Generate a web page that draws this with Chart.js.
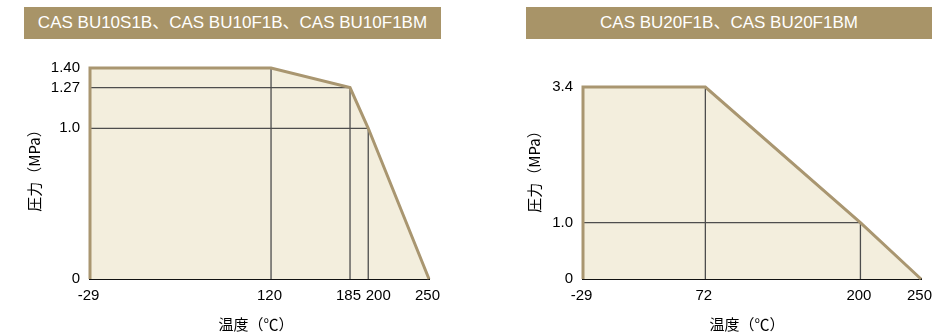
<!DOCTYPE html>
<html><head><meta charset="utf-8">
<script src="https://cdn.jsdelivr.net/npm/chart.js@4/dist/chart.umd.min.js"></script>
<style>
body{margin:0;width:948px;height:336px;background:#fff;position:relative;overflow:hidden;font-family:"Liberation Sans","Noto Sans CJK JP",sans-serif}
.banner{position:absolute;top:7px;height:32px;line-height:32px;background:#a89468;color:#fff;font-size:17px;text-align:center;white-space:nowrap;font-family:"Liberation Sans","Noto Sans CJK JP",sans-serif}
canvas{position:absolute;top:0}
</style></head><body>
<div class="banner" id="b1" style="left:24px;width:417px"></div>
<div class="banner" id="b2" style="left:526px;width:406px"></div>
<canvas id="c1" width="474" height="336" style="left:0"></canvas>
<canvas id="c2" width="474" height="336" style="left:474px"></canvas>
<script>
// ---- data ----
const titleA = 'CAS BU10S1B、CAS BU10F1B、CAS BU10F1BM';
const titleB = 'CAS BU20F1B、CAS BU20F1BM';
const xTitle = '温度（℃）';
const yTitle = '圧力（MPa）';

// chart A: temperature (°C) / pressure (MPa) limit curve
const tempA = [-29, -29, 120, 185, 200, 250];
const pressA = [0, 1.40, 1.40, 1.27, 1.0, 0];
const xTicksA = [-29, 120, 185, 200, 250];
const xTickLabelsA = ['-29', '120', '185', '200', '250'];
const yTicksA = [0, 1.0, 1.27, 1.40];
const yTickLabelsA = ['0', '1.0', '1.27', '1.40'];

// chart B
const tempB = [-29, -29, 72, 200, 250];
const pressB = [0, 3.4, 3.4, 1.0, 0];
const xTicksB = [-29, 72, 200, 250];
const xTickLabelsB = ['-29', '72', '200', '250'];
const yTicksB = [0, 1.0, 3.4];
const yTickLabelsB = ['0', '1.0', '3.4'];

// ---- styles ----
const TAN = '#a99670';
const FILL = '#f3eedd';
const GUIDE = '#4d4d4d';
const TEXT = '#000000';
const TICK_FONT = {family: '"Liberation Sans", Arial, sans-serif', size: 15};
const TITLE_FONT = '15px "Noto Sans CJK JP", sans-serif';

document.getElementById('b1').textContent = titleA;
document.getElementById('b2').textContent = titleB;

function makeChart(id, temps, press, xTicks, xLabels, yTicks, yLabels, layout) {
  const pts = temps.map((t, i) => ({x: t, y: press[i]}));
  const xMin = Math.min(...temps), xMax = Math.max(...temps);
  const yMax = Math.max(...press);
  const datasets = [{
    data: pts, borderColor: TAN, borderWidth: 3, backgroundColor: FILL,
    fill: 'origin', pointRadius: 0, tension: 0, clip: false, borderJoinStyle: 'miter'
  }];
  for (let i = 2; i < pts.length - 1; i++) {
    const p = pts[i];
    datasets.push({data: [{x: p.x, y: 0}, {x: p.x, y: p.y}], borderColor: GUIDE, borderWidth: 1.3,
      pointRadius: 0, fill: false, clip: false});
    if (p.y < yMax) {
      datasets.push({data: [{x: xMin, y: p.y}, {x: p.x, y: p.y}], borderColor: GUIDE, borderWidth: 1.3,
        pointRadius: 0, fill: false, clip: false});
    }
  }
  const shifted = layout.shift ? [layout.shift.value] : [];
  const mainTicks = xTicks.filter(v => !shifted.includes(v));
  const helpers = {
    id: 'axisTitles',
    afterLayout(chart) {
      // let the zero-height helper axis draw its label below the baseline
      if (chart.scales.x2) chart.scales.x2.bottom = chart.height;
    },
    afterDraw(chart) {
      const ctx = chart.ctx;
      ctx.save();
      ctx.fillStyle = TEXT;
      ctx.font = TITLE_FONT;
      ctx.textAlign = 'center';
      ctx.textBaseline = 'middle';
      ctx.fillText(xTitle, layout.xtx, layout.xty);
      ctx.translate(layout.ytx, layout.yty);
      ctx.rotate(-Math.PI / 2);
      ctx.fillText(yTitle, 0, 0);
      ctx.restore();
    }
  };
  const tickLabel = v => xLabels[xTicks.indexOf(v)];
  const scales = {
    x: {
      type: 'linear', min: xMin, max: xMax, z: 1, weight: 0,
      grid: {display: false, drawTicks: false},
      border: {display: true, color: '#111', width: 2},
      afterBuildTicks: s => { s.ticks = mainTicks.map(v => ({value: v})); },
      afterFit: s => { s.height = 57; },
      ticks: {padding: 8, color: TEXT, font: TICK_FONT, maxRotation: 0, autoSkip: false,
        labelOffset: layout.xLabelOffset || 0, callback: tickLabel}
    },
    y: {
      type: 'linear', min: 0, max: yMax,
      grid: {display: false, drawTicks: false},
      border: {display: false},
      afterBuildTicks: s => { s.ticks = yTicks.map(v => ({value: v})); },
      afterFit: s => { s.width = layout.yw; },
      ticks: {padding: 10, color: TEXT, font: TICK_FONT, autoSkip: false,
        callback: v => yLabels[yTicks.indexOf(v)]}
    }
  };
  if (shifted.length) {
    scales.x2 = {
      type: 'linear', position: 'bottom', min: xMin, max: xMax, z: 1, weight: -1,
      grid: {display: false, drawTicks: false},
      border: {display: false},
      afterBuildTicks: s => { s.ticks = shifted.map(v => ({value: v})); },
      afterFit: s => { s.height = 0; },
      ticks: {padding: 8, color: TEXT, font: TICK_FONT, maxRotation: 0, autoSkip: false,
        labelOffset: layout.shift.dx, callback: tickLabel}
    };
  }
  return new Chart(document.getElementById(id), {
    type: 'scatter',
    data: {datasets},
    options: {
      responsive: false, devicePixelRatio: 1, animation: false, showLine: true,
      layout: {padding: {top: layout.top, right: layout.right, left: 0, bottom: 0}},
      plugins: {legend: {display: false}, tooltip: {enabled: false}, filler: {drawTime: 'beforeDatasetsDraw'}},
      scales
    },
    plugins: [helpers]
  });
}

makeChart('c1', tempA, pressA, xTicksA, xTickLabelsA, yTicksA, yTickLabelsA,
  {top: 68, right: 45, yw: 90, xtx: 256, xty: 324, ytx: 34, yty: 167,
   xLabelOffset: -1.5, shift: {value: 200, dx: 10}});
makeChart('c2', tempB, pressB, xTicksB, xTickLabelsB, yTicksB, yTickLabelsB,
  {top: 87, right: 27, yw: 109, xtx: 273, xty: 324, ytx: 60, yty: 168, xLabelOffset: -1.5});
</script>
</body></html>
